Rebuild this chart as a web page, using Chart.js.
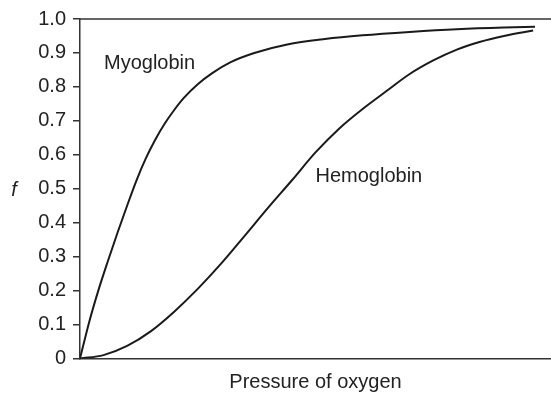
<!DOCTYPE html>
<html>
<head>
<meta charset="utf-8">
<script src="https://cdn.jsdelivr.net/npm/chart.js@4/dist/chart.umd.min.js"></script>
<style>
  html, body { margin: 0; padding: 0; background: #fff; }
  canvas { display: block; }
</style>
</head>
<body>
<canvas id="graph" width="551" height="395"></canvas>
<script>
// binding curves: pressure (arbitrary units, 0-100) vs fraction saturated
var myoPressure = [0, 2, 4, 6, 8, 10, 12, 14, 16, 18, 20, 22, 25, 28, 32, 37, 44, 52, 60, 70, 80, 90, 96.6];
var myoFraction = [0, 0.11, 0.205, 0.29, 0.372, 0.45, 0.525, 0.59, 0.645, 0.692, 0.732, 0.767, 0.808, 0.84, 0.873, 0.9, 0.925, 0.941, 0.952, 0.962, 0.970, 0.975, 0.977];

var hemoPressure = [0, 5, 10, 15, 20, 25, 30, 35, 40, 45, 50, 55, 60, 65, 70, 75, 80, 85, 90, 96.2];
var hemoFraction = [0, 0.01, 0.037, 0.08, 0.138, 0.205, 0.28, 0.362, 0.445, 0.525, 0.607, 0.677, 0.735, 0.787, 0.838, 0.878, 0.91, 0.933, 0.95, 0.966];

var yTicks = [0, 0.1, 0.2, 0.3, 0.4, 0.5, 0.6, 0.7, 0.8, 0.9, 1.0];

var curveLabels = [
  { text: "Myoglobin", x: 5.1, y: 0.87 },
  { text: "Hemoglobin", x: 50.0, y: 0.535 }
];

var FONT = "'Liberation Sans', Arial, sans-serif";
var INK = "#222";

function toPoints(xs, ys) {
  return xs.map(function (x, i) { return { x: x, y: ys[i] }; });
}

// labels on the curves, the italic f and the top frame line
var extras = {
  id: "extras",
  afterDraw: function (chart) {
    var ctx = chart.ctx;
    var area = chart.chartArea;
    var xs = chart.scales.x, ys = chart.scales.y;
    ctx.save();
    ctx.strokeStyle = "#333";
    ctx.lineWidth = 1.5;
    ctx.beginPath();
    ctx.moveTo(area.left, area.top);
    ctx.lineTo(area.right, area.top);
    ctx.stroke();

    ctx.fillStyle = INK;
    ctx.font = "20px " + FONT;
    ctx.textAlign = "left";
    ctx.textBaseline = "middle";
    curveLabels.forEach(function (l) {
      ctx.fillText(l.text, xs.getPixelForValue(l.x), ys.getPixelForValue(l.y));
    });

    ctx.font = "italic 20px " + FONT;
    ctx.textAlign = "center";
    ctx.fillText("f", 14, ys.getPixelForValue(0.5) + 2);
    ctx.restore();
  }
};

var chart = new Chart("graph", {
  type: "line",
  data: {
    datasets: [{
      label: "Myoglobin",
      data: toPoints(myoPressure, myoFraction),
      borderColor: "#1a1a1a",
      borderWidth: 2,
      pointRadius: 0,
      cubicInterpolationMode: "monotone",
      fill: false
    }, {
      label: "Hemoglobin",
      data: toPoints(hemoPressure, hemoFraction),
      borderColor: "#1a1a1a",
      borderWidth: 2,
      pointRadius: 0,
      cubicInterpolationMode: "monotone",
      fill: false
    }]
  },
  options: {
    responsive: false,
    animation: false,
    layout: { padding: { top: 15, right: 0, bottom: 0, left: 0 } },
    plugins: {
      legend: { display: false },
      tooltip: { enabled: false }
    },
    scales: {
      x: {
        type: "linear",
        min: 0,
        max: 100,
        afterFit: function (scale) { scale.height = 36.5; },
        ticks: { display: false },
        grid: { drawOnChartArea: false, drawTicks: false },
        border: { display: true, color: "#333", width: 1.5 },
        title: {
          display: true,
          text: "Pressure of oxygen",
          color: INK,
          font: { family: FONT, size: 20 },
          padding: { top: 0, bottom: 1 }
        }
      },
      y: {
        min: 0,
        max: 1,
        afterFit: function (scale) { scale.width = 80; },
        afterBuildTicks: function (scale) {
          scale.ticks = yTicks.map(function (v) { return { value: v }; });
        },
        ticks: {
          color: INK,
          padding: 7,
          font: { family: FONT, size: 20 },
          callback: function (v) { return v === 0 ? "0" : v.toFixed(1); }
        },
        grid: { drawOnChartArea: false, drawTicks: true, tickLength: 7, color: "#333", lineWidth: 1.5 },
        border: { display: true, color: "#333", width: 1.5 }
      }
    }
  },
  plugins: [extras]
});
</script>
</body>
</html>
